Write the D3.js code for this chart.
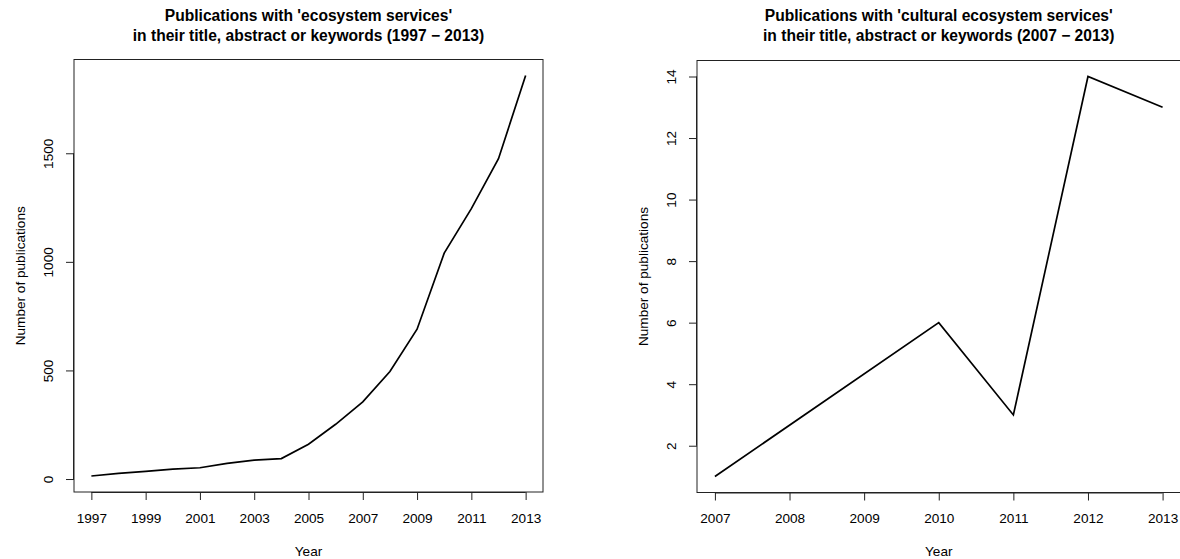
<!DOCTYPE html>
<html>
<head>
<meta charset="utf-8">
<script src="https://cdn.jsdelivr.net/npm/d3@7/dist/d3.min.js"></script>
<style>
  html, body { margin: 0; padding: 0; background: #fff; }
  svg { display: block; font-family: "Liberation Sans", Arial, Helvetica, sans-serif; }
</style>
</head>
<body>
<svg id="chart" width="1180" height="559"></svg>
<script>
// Publications per year mentioning 'ecosystem services'
const esYears = [1997, 1998, 1999, 2000, 2001, 2002, 2003, 2004, 2005,
                 2006, 2007, 2008, 2009, 2010, 2011, 2012, 2013];
const esCounts = [14, 26, 35, 46, 52, 72, 87, 94, 160,
                  252, 355, 495, 690, 1040, 1245, 1475, 1858];
const esXTicks = [1997, 1999, 2001, 2003, 2005, 2007, 2009, 2011, 2013];
const esYTicks = [0, 500, 1000, 1500];

// Publications per year mentioning 'cultural ecosystem services'
const cesYears = [2007, 2010, 2011, 2012, 2013];
const cesCounts = [1, 6, 3, 14, 13];
const cesXTicks = [2007, 2008, 2009, 2010, 2011, 2012, 2013];
const cesYTicks = [2, 4, 6, 8, 10, 12, 14];

const svg = d3.select("#chart");
const AXIS_FONT = "13.6px";
const TITLE_FONT = "15.6px";

// R-style axis range: data extent widened by 4% on each side
function padded(values) {
  const [lo, hi] = d3.extent(values);
  const d = (hi - lo) * 0.04;
  return [lo - d, hi + d];
}

function panel(cfg) {
  const { box, xs, ys, xTicks, yTicks, title } = cfg;
  const x = d3.scaleLinear().domain(padded(xs)).range([box.left, box.right]);
  const y = d3.scaleLinear().domain(padded(ys)).range([box.bottom, box.top]);
  const g = svg.append("g");
  const cx = (box.left + box.right) / 2;
  const cy = (box.top + box.bottom) / 2;

  // title (two lines, bold)
  g.append("text")
    .attr("x", cx).attr("y", 21)
    .attr("text-anchor", "middle")
    .attr("font-size", TITLE_FONT).attr("font-weight", "bold")
    .text(title[0]);
  g.append("text")
    .attr("x", cx).attr("y", 41)
    .attr("text-anchor", "middle")
    .attr("font-size", TITLE_FONT).attr("font-weight", "bold")
    .text(title[1]);

  // bottom axis
  const xAxis = d3.axisBottom(x)
    .tickValues(xTicks).tickFormat(d3.format("d"))
    .tickSizeInner(8).tickSizeOuter(0).tickPadding(13);
  const gx = g.append("g").attr("transform", `translate(0,${box.bottom})`).call(xAxis);
  gx.select(".domain")
    .attr("d", `M${x(xTicks[0])},0.5H${x(xTicks[xTicks.length - 1])}`);

  // left axis, labels rotated as in base graphics
  const yAxis = d3.axisLeft(y)
    .tickValues(yTicks).tickFormat(d3.format("d"))
    .tickSizeInner(8).tickSizeOuter(0).tickPadding(0);
  const gy = g.append("g").attr("transform", `translate(${box.left},0)`).call(yAxis);
  gy.select(".domain")
    .attr("d", `M-0.5,${y(yTicks[0])}V${y(yTicks[yTicks.length - 1])}`);
  gy.selectAll(".tick text")
    .attr("x", null).attr("dy", null)
    .attr("transform", "translate(-26,0) rotate(-90)")
    .attr("text-anchor", "middle")
    .attr("dominant-baseline", "central");

  [gx, gy].forEach(a => {
    a.selectAll("text").attr("font-size", AXIS_FONT).attr("fill", "#000")
      .attr("font-family", '"Liberation Sans", Arial, Helvetica, sans-serif');
    a.selectAll("line, path").attr("stroke", "#222");
  });
  gx.selectAll(".tick text").attr("dy", "0.71em");

  // frame
  g.append("rect")
    .attr("x", box.left).attr("y", box.top)
    .attr("width", box.right - box.left).attr("height", box.bottom - box.top)
    .attr("fill", "none").attr("stroke", "#222").attr("stroke-width", 1);

  // axis titles
  g.append("text")
    .attr("x", cx).attr("y", 556)
    .attr("text-anchor", "middle").attr("font-size", AXIS_FONT)
    .text("Year");
  g.append("text")
    .attr("transform", `translate(${box.left - 54},${cy}) rotate(-90)`)
    .attr("text-anchor", "middle").attr("dominant-baseline", "central")
    .attr("font-size", AXIS_FONT)
    .text("Number of publications");

  // the series line
  const line = d3.line().x((d, i) => x(xs[i])).y(d => y(d));
  g.append("path")
    .datum(ys)
    .attr("d", line)
    .attr("fill", "none")
    .attr("stroke", "#000")
    .attr("stroke-width", 1.7)
    .attr("stroke-linejoin", "miter");
}

panel({
  box: { left: 74, right: 543, top: 59.5, bottom: 492 },
  xs: esYears, ys: esCounts, xTicks: esXTicks, yTicks: esYTicks,
  title: ["Publications with 'ecosystem services'",
          "in their title, abstract or keywords (1997 \u2212 2013)"]
});

panel({
  box: { left: 697, right: 1180.5, top: 60.5, bottom: 492.5 },
  xs: cesYears, ys: cesCounts, xTicks: cesXTicks, yTicks: cesYTicks,
  title: ["Publications with 'cultural ecosystem services'",
          "in their title, abstract or keywords (2007 \u2212 2013)"]
});
</script>
</body>
</html>
